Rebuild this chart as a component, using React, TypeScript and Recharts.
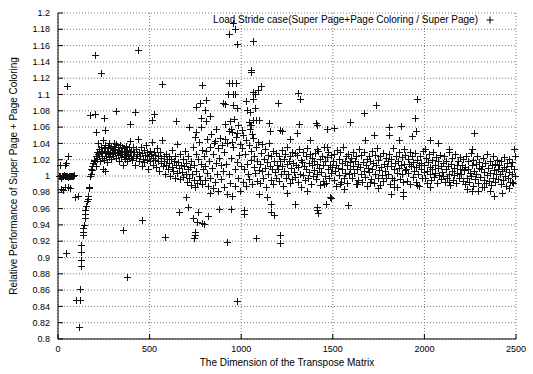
import { ScatterChart, Scatter, XAxis, YAxis, CartesianGrid } from 'recharts'

// gnuplot style: + markers, dotted grid, inward ticks on all four sides

const xTicks = [0, 500, 1000, 1500, 2000, 2500]
const yTicks = [
  0.8, 0.82, 0.84, 0.86, 0.88, 0.9, 0.92, 0.94, 0.96, 0.98, 1,
  1.02, 1.04, 1.06, 1.08, 1.1, 1.12, 1.14, 1.16, 1.18, 1.2,
]

const seriesName = 'Load Stride case(Super Page+Page Coloring / Super Page)'
const xTitle = 'The Dimension of the Transpose Matrix'
const yTitle = 'Relative Performance of Super Page + Page Coloring'

// values, [dimension, ratio]
const seg0 = [
  [3, 1.0], [8, 1.0], [9, 1.014], [13, 1.0], [16, 0.984], [18, 0.998], [22, 1.0], [27, 1.0], [27, 0.983],
  [32, 1.001], [36, 1.0], [37, 1.014], [38, 0.987], [41, 1.0], [44, 0.905], [45, 1.016], [46, 1.0],
  [49, 1.11], [51, 1.0], [55, 0.987], [56, 1.024], [56, 0.999], [61, 1.0], [64, 0.985], [66, 1.0],
  [71, 1.0], [76, 1.0], [81, 1.0], [86, 1.001], [93, 0.974], [109, 0.975],
]
const seg100 = [
  [100, 0.848], [115, 0.815], [118, 0.848], [122, 0.861], [125, 0.89], [126, 0.897], [127, 0.907],
  [128, 0.915], [135, 0.928], [137, 0.931], [138, 0.936], [140, 0.94], [145, 0.948], [147, 0.953],
  [150, 0.958], [155, 0.963], [160, 0.969], [162, 0.972], [165, 0.975], [168, 0.985], [170, 0.987],
  [173, 1.075], [175, 1.0], [178, 1.002], [180, 1.008], [184, 1.007], [185, 1.012], [190, 1.016],
  [195, 1.02], [198, 1.018],
]
const seg200 = [
  [200, 1.149], [202, 1.018], [204, 1.076], [205, 1.024], [208, 1.012], [209, 1.054], [211, 1.03],
  [214, 1.021], [217, 1.027], [220, 1.04], [223, 1.033], [226, 1.024], [229, 1.019], [232, 1.036],
  [235, 1.028], [237, 1.126], [238, 1.022], [241, 1.031], [244, 1.009], [247, 1.044], [250, 1.034],
  [251, 1.071], [253, 1.02], [256, 1.029], [257, 1.006], [258, 1.056], [259, 1.038], [262, 1.025],
  [265, 1.031], [268, 1.017], [271, 1.036], [274, 1.028], [277, 1.023], [280, 1.04], [283, 1.03],
  [286, 1.034], [289, 1.021], [292, 1.037], [295, 1.027], [298, 1.032],
]
const seg300 = [
  [301, 1.025], [304, 1.041], [307, 1.033], [310, 1.028], [313, 1.036], [316, 1.022], [319, 1.08],
  [319, 1.039], [322, 1.03], [325, 1.026], [328, 1.035], [331, 1.019], [334, 1.032], [337, 1.038],
  [340, 1.027], [343, 1.031], [346, 1.023], [349, 1.036], [352, 1.029], [355, 0.934], [355, 1.013],
  [358, 1.034], [361, 1.025], [364, 1.03], [367, 1.021], [370, 1.037], [373, 1.027], [376, 1.032],
  [377, 0.876], [379, 1.018], [382, 1.026], [385, 1.035], [388, 1.022], [391, 1.064], [391, 1.029],
  [394, 1.043], [397, 1.024],
]
const seg400 = [
  [400, 1.031], [404, 1.02], [408, 1.036], [412, 1.025], [416, 1.029], [420, 1.014], [422, 1.078],
  [424, 1.033], [428, 1.022], [432, 1.027], [436, 1.046], [437, 1.155], [440, 1.019], [444, 1.03],
  [448, 1.024], [452, 1.035], [456, 1.012], [459, 0.946], [460, 1.028], [464, 1.021], [468, 1.032],
  [472, 1.017], [476, 1.026], [480, 1.038], [484, 1.02], [488, 1.029], [492, 1.008], [496, 1.024],
]
const seg500 = [
  [500, 1.031], [504, 1.018], [508, 1.027], [512, 1.042], [515, 1.069], [516, 1.022], [520, 1.013],
  [522, 1.076], [524, 1.03], [528, 1.02], [532, 1.026], [536, 1.011], [540, 1.034], [544, 1.019],
  [548, 1.025], [552, 1.006], [556, 1.029], [560, 1.016], [564, 1.022], [568, 1.044], [570, 1.113],
  [572, 1.012], [576, 1.024], [580, 1.018], [584, 0.925], [584, 1.003], [588, 1.027], [592, 1.014],
  [596, 1.021],
]
const seg600 = [
  [600, 1.009], [604, 1.025], [608, 1.016], [612, 1.0], [616, 1.021], [620, 1.011], [624, 1.032],
  [628, 1.006], [632, 1.018], [636, 0.998], [640, 1.024], [644, 1.013], [646, 1.068], [648, 1.039],
  [652, 1.004], [656, 1.017], [660, 1.01], [661, 0.956], [664, 1.027], [668, 0.996], [672, 1.014],
  [676, 1.005], [680, 1.021], [684, 0.999], [688, 1.012], [692, 1.031], [696, 1.003], [699, 0.974],
]
const seg700 = [
  [700, 1.016], [704, 0.993], [708, 1.008], [710, 0.962], [712, 1.024], [714, 1.06], [716, 0.998],
  [720, 1.011], [724, 0.989], [728, 1.019], [732, 1.003], [736, 1.035], [737, 0.948], [740, 0.995],
  [744, 1.013], [744, 0.924], [746, 0.931], [746, 1.048], [748, 0.986], [748, 0.928], [752, 1.027],
  [755, 1.054], [755, 1.085], [756, 1.006], [759, 0.944], [760, 0.992], [764, 1.021], [764, 0.956],
  [768, 1.0], [772, 1.042], [773, 1.089], [776, 0.995], [780, 1.015], [783, 1.071], [783, 1.06],
  [784, 1.032], [786, 1.112], [786, 0.942], [788, 0.99], [792, 1.009], [796, 1.025], [797, 0.941],
]
const seg800 = [
  [800, 1.012], [801, 1.081], [804, 0.995], [808, 1.031], [810, 1.093], [810, 1.067], [812, 1.004],
  [816, 1.045], [819, 0.951], [820, 0.988], [824, 1.018], [828, 1.036], [828, 1.074], [830, 0.979],
  [832, 0.998], [836, 1.052], [840, 1.01], [844, 0.985], [848, 1.027], [852, 1.041], [856, 0.993],
  [857, 1.043], [860, 1.016], [864, 1.058], [868, 1.002], [872, 1.034], [876, 0.982], [879, 0.96],
  [880, 1.022], [884, 1.047], [888, 0.996], [892, 1.013], [896, 1.038],
]
const seg900 = [
  [900, 1.006], [903, 1.09], [904, 1.029], [908, 0.987], [912, 1.064], [912, 1.088], [912, 1.045],
  [916, 1.015], [920, 0.978], [921, 0.919], [924, 1.041], [928, 1.1], [932, 1.003], [934, 1.174],
  [934, 1.114], [936, 1.055], [939, 1.068], [940, 0.991], [943, 0.959], [943, 1.058], [944, 1.022],
  [948, 1.042], [948, 1.054], [950, 1.114], [952, 0.975], [954, 1.1], [955, 1.188], [956, 1.035],
  [957, 1.087], [960, 1.07], [964, 1.008], [966, 1.1], [967, 1.18], [968, 0.988], [972, 1.048],
  [972, 1.114], [975, 0.847], [976, 1.017], [976, 1.083], [976, 1.053], [979, 1.162], [980, 0.997],
  [984, 1.062], [988, 1.026], [992, 0.982], [996, 1.039],
]
const seg1000 = [
  [1000, 1.012], [1003, 1.056], [1004, 1.034], [1008, 0.993], [1012, 1.05], [1016, 1.008],
  [1018, 0.958], [1018, 0.953], [1020, 1.027], [1024, 0.988], [1027, 1.092], [1028, 1.044],
  [1032, 1.015], [1034, 1.081], [1036, 1.003], [1040, 1.038], [1044, 0.996], [1045, 1.066],
  [1048, 1.058], [1048, 1.078], [1048, 1.062], [1052, 1.02], [1052, 1.13], [1052, 1.062],
  [1055, 1.128], [1056, 1.031], [1057, 1.052], [1060, 0.99], [1064, 1.047], [1066, 1.166],
  [1066, 1.094], [1066, 1.103], [1066, 1.069], [1068, 1.011], [1072, 1.025], [1076, 1.004],
  [1076, 1.101], [1076, 1.083], [1080, 1.036], [1080, 1.069], [1081, 0.924], [1084, 0.994],
  [1088, 1.019], [1092, 1.042], [1094, 1.106], [1096, 1.007], [1096, 0.978], [1097, 1.069],
]
const seg1100 = [
  [1100, 1.015], [1104, 0.992], [1107, 1.11], [1108, 1.028], [1112, 1.006], [1116, 1.039],
  [1120, 0.998], [1124, 1.021], [1128, 1.01], [1132, 1.033], [1136, 0.987], [1140, 1.017],
  [1141, 0.974], [1144, 1.026], [1148, 1.002], [1152, 1.04], [1154, 1.065], [1156, 1.012],
  [1157, 1.055], [1160, 0.995], [1161, 0.956], [1163, 0.966], [1164, 1.024], [1168, 1.008],
  [1172, 1.031], [1176, 0.99], [1179, 0.952], [1180, 1.019], [1184, 1.005], [1188, 1.028],
  [1192, 0.997], [1196, 1.014],
]
const seg1200 = [
  [1200, 1.009], [1203, 1.089], [1204, 1.025], [1208, 0.994], [1212, 1.018], [1212, 0.928],
  [1212, 0.918], [1212, 1.057], [1216, 1.003], [1220, 1.032], [1221, 1.055], [1224, 1.012],
  [1228, 0.988], [1232, 1.021], [1236, 1.006], [1240, 1.027], [1244, 0.997], [1248, 1.015],
  [1250, 0.979], [1252, 1.035], [1256, 1.002], [1260, 1.019], [1264, 0.991], [1267, 1.046],
  [1268, 1.024], [1272, 1.01], [1276, 1.03], [1280, 0.996], [1284, 1.016], [1288, 1.005],
  [1292, 1.028], [1294, 0.966], [1296, 0.999],
]
const seg1300 = [
  [1300, 1.014], [1303, 1.053], [1304, 1.026], [1308, 0.993], [1309, 1.102], [1312, 1.011],
  [1316, 1.033], [1318, 1.064], [1320, 1.003], [1321, 1.095], [1324, 1.02], [1328, 0.987],
  [1332, 1.017], [1336, 1.029], [1340, 1.001], [1344, 1.012], [1348, 0.995], [1352, 1.024],
  [1356, 1.008], [1358, 0.982], [1360, 1.034], [1364, 0.998], [1368, 1.016], [1372, 1.005],
  [1376, 1.027], [1376, 1.044], [1380, 0.99], [1384, 1.013], [1388, 1.022], [1392, 1.0], [1396, 1.018],
]
const seg1400 = [
  [1400, 1.007], [1404, 1.028], [1408, 0.996], [1409, 1.065], [1412, 1.015], [1412, 1.033],
  [1413, 0.962], [1416, 1.003], [1416, 0.958], [1416, 1.062], [1418, 0.955], [1420, 1.031],
  [1424, 1.01], [1428, 0.989], [1432, 1.021], [1436, 1.005], [1440, 1.025], [1444, 0.994],
  [1448, 1.013], [1452, 1.036], [1453, 0.99], [1456, 1.0], [1460, 1.018], [1463, 0.966],
  [1464, 0.992], [1467, 1.058], [1467, 1.036], [1468, 1.023], [1472, 1.009], [1476, 1.03],
  [1480, 0.997], [1484, 1.014], [1485, 0.974], [1488, 1.004], [1490, 0.973], [1492, 1.026], [1496, 1.011],
]
const seg1500 = [
  [1500, 1.018], [1504, 0.995], [1507, 1.059], [1508, 1.027], [1512, 1.006], [1516, 1.014],
  [1520, 0.988], [1524, 1.032], [1528, 1.01], [1532, 1.021], [1536, 1.001], [1540, 1.029],
  [1540, 0.99], [1544, 0.993], [1548, 1.016], [1552, 1.008], [1556, 1.035], [1560, 0.998],
  [1562, 0.984], [1564, 1.019], [1568, 1.004], [1572, 1.024], [1576, 0.991], [1580, 1.013],
  [1584, 1.027], [1584, 0.964], [1588, 1.002], [1592, 1.017], [1594, 1.066], [1596, 1.009],
]
const seg1600 = [
  [1600, 1.022], [1604, 0.997], [1608, 1.012], [1612, 1.03], [1616, 1.004], [1620, 1.018],
  [1624, 0.99], [1628, 1.025], [1631, 0.99], [1632, 1.008], [1636, 1.015], [1640, 0.995],
  [1644, 1.033], [1648, 1.011], [1652, 1.002], [1656, 1.026], [1660, 0.993], [1664, 1.017],
  [1668, 1.006], [1669, 1.077], [1672, 1.029], [1675, 1.044], [1676, 0.999], [1680, 1.014],
  [1684, 1.021], [1688, 0.988], [1692, 1.01], [1696, 1.024],
]
const seg1700 = [
  [1700, 1.005], [1704, 1.019], [1704, 0.993], [1708, 0.996], [1712, 1.031], [1716, 1.009],
  [1720, 1.016], [1724, 0.992], [1724, 1.05], [1728, 1.026], [1732, 1.003], [1736, 1.013],
  [1736, 1.087], [1740, 1.034], [1744, 0.998], [1747, 0.985], [1748, 1.02], [1752, 1.007],
  [1756, 0.989], [1760, 1.024], [1764, 1.011], [1768, 1.001], [1772, 1.028], [1776, 0.994],
  [1780, 1.015], [1784, 1.006], [1788, 1.022], [1792, 0.997], [1796, 1.012],
]
const seg1800 = [
  [1800, 1.018], [1804, 1.003], [1808, 1.027], [1809, 1.06], [1809, 1.05], [1812, 0.99],
  [1816, 1.012], [1819, 0.978], [1820, 1.021], [1824, 0.998], [1828, 1.034], [1832, 1.008],
  [1833, 0.987], [1836, 0.995], [1840, 1.016], [1844, 1.025], [1848, 1.004], [1852, 0.987],
  [1856, 1.019], [1860, 1.01], [1860, 1.044], [1864, 1.029], [1868, 0.996], [1872, 1.013],
  [1874, 1.061], [1876, 1.002], [1880, 1.023], [1884, 0.993], [1884, 0.98], [1884, 0.975],
  [1888, 1.015], [1888, 1.033], [1892, 1.007], [1896, 1.026],
]
const seg1900 = [
  [1900, 1.009], [1904, 0.994], [1908, 1.021], [1912, 1.004], [1916, 1.015], [1920, 1.03],
  [1924, 0.99], [1928, 1.012], [1932, 1.024], [1933, 1.049], [1936, 0.999], [1940, 1.017],
  [1944, 1.006], [1947, 1.071], [1948, 1.028], [1952, 0.993], [1955, 1.055], [1956, 1.011],
  [1960, 1.02], [1960, 1.095], [1960, 0.989], [1964, 1.002], [1968, 1.014], [1972, 0.988],
  [1976, 1.025], [1980, 1.008], [1984, 1.016], [1988, 0.997], [1992, 1.031], [1996, 1.005],
]
const seg2000 = [
  [2000, 1.013], [2004, 0.998], [2006, 1.033], [2008, 1.022], [2012, 1.006], [2016, 0.991],
  [2020, 1.017], [2024, 1.027], [2028, 1.003], [2031, 0.986], [2032, 1.011], [2033, 1.044],
  [2036, 0.995], [2040, 1.02], [2044, 1.008], [2048, 1.029], [2052, 0.999], [2056, 1.014],
  [2060, 1.004], [2064, 1.023], [2068, 0.992], [2072, 1.01], [2075, 1.04], [2076, 1.018],
  [2080, 1.001], [2084, 1.026], [2088, 0.996], [2092, 1.012], [2096, 1.005],
]
const seg2100 = [
  [2100, 1.016], [2104, 1.0], [2108, 1.024], [2112, 0.993], [2116, 1.009], [2120, 1.019],
  [2124, 0.997], [2128, 1.012], [2132, 1.03], [2133, 1.033], [2133, 0.993], [2136, 1.003],
  [2140, 0.989], [2144, 1.015], [2148, 1.006], [2152, 1.022], [2156, 0.995], [2160, 1.01],
  [2164, 1.001], [2168, 1.027], [2172, 0.992], [2176, 1.013], [2180, 1.004], [2184, 1.019],
  [2188, 0.998], [2192, 1.008], [2196, 1.023],
]
const seg2200 = [
  [2200, 1.002], [2204, 1.014], [2208, 0.994], [2212, 1.021], [2216, 1.007], [2220, 0.99],
  [2224, 1.011], [2228, 1.025], [2232, 0.997], [2233, 0.984], [2236, 1.009], [2240, 1.018],
  [2244, 0.993], [2248, 1.004], [2252, 1.028], [2256, 1.0], [2260, 1.013], [2260, 1.033],
  [2260, 0.981], [2264, 0.988], [2268, 1.02], [2270, 1.053], [2272, 1.006], [2276, 0.996],
  [2280, 1.015], [2284, 1.003], [2288, 1.024], [2292, 0.991], [2293, 0.982], [2296, 1.01],
]
const seg2300 = [
  [2300, 1.017], [2304, 0.999], [2308, 1.008], [2312, 0.987], [2316, 1.012], [2320, 1.022],
  [2324, 0.995], [2324, 0.986], [2328, 1.005], [2332, 1.016], [2336, 0.992], [2340, 1.027],
  [2344, 1.001], [2348, 1.01], [2352, 0.994], [2356, 1.019], [2359, 0.982], [2360, 1.004],
  [2364, 0.989], [2368, 1.013], [2372, 1.024], [2376, 0.998], [2379, 0.976], [2380, 1.007],
  [2384, 1.015], [2388, 0.993], [2392, 1.002], [2396, 1.02],
]
const seg2400 = [
  [2400, 1.009], [2404, 0.996], [2408, 1.014], [2412, 1.003], [2416, 0.99], [2420, 1.018],
  [2424, 1.006], [2424, 0.979], [2428, 0.995], [2432, 1.011], [2436, 1.023], [2440, 1.0],
  [2444, 0.988], [2448, 1.008], [2452, 1.016], [2456, 0.997], [2460, 1.005], [2460, 0.985],
  [2464, 1.021], [2468, 0.993], [2472, 1.012], [2476, 1.002], [2479, 0.993], [2480, 1.017],
  [2484, 0.991], [2488, 1.009], [2488, 1.033], [2492, 1.025], [2496, 1.0],
]

const points = [
  ...seg0, ...seg100, ...seg200, ...seg300, ...seg400, ...seg500, ...seg600, ...seg700,
  ...seg800, ...seg900, ...seg1000, ...seg1100, ...seg1200, ...seg1300, ...seg1400,
  ...seg1500, ...seg1600, ...seg1700, ...seg1800, ...seg1900, ...seg2000, ...seg2100,
  ...seg2200, ...seg2300, ...seg2400,
].map(([x, y]) => ({ x, y }))

const font = '"Liberation Sans", Arial, sans-serif'
const tickStyle = { fill: '#000', fontSize: 9, fontFamily: font }

// gnuplot "+" point, snapped to the pixel grid
const PlusMark = (props: any) => {
  const { cx, cy } = props
  if (cx == null || cy == null) return null
  const px = Math.round(cx) + 0.5
  const py = Math.round(cy) + 0.5
  return <path d={`M${px - 3.5},${py}h7M${px},${py - 3.5}v7`} stroke="#111" strokeWidth={1} fill="none" />
}

const fmt = (v: number) => String(Number(v.toFixed(2)))

export default function App() {
  return (
    <div style={{ position: 'absolute', left: 0, top: 0, width: 533, height: 374, background: '#fff' }}>
      <ScatterChart width={533} height={374} margin={{ top: 13, right: 17, left: 0, bottom: 0 }}>
        <CartesianGrid stroke="#777" strokeDasharray="1 2" />
        <XAxis
          type="number"
          dataKey="x"
          domain={[0, 2500]}
          ticks={xTicks}
          height={35}
          stroke="#000"
          tickSize={-5}
          tickMargin={12}
          tick={tickStyle}
          label={{ value: xTitle, position: 'insideBottom', offset: 8, fill: '#000', fontSize: 10, fontFamily: font }}
        />
        <XAxis xAxisId="top" orientation="top" type="number" domain={[0, 2500]} ticks={xTicks} height={0} stroke="#000" tickSize={-5} tick={false} />
        <YAxis
          type="number"
          dataKey="y"
          domain={[0.8, 1.2]}
          ticks={yTicks}
          width={58}
          stroke="#000"
          tickSize={-5}
          tickMargin={13}
          tick={tickStyle}
          tickFormatter={fmt}
          interval={0}
          label={{
            value: yTitle,
            angle: -90,
            position: 'insideLeft',
            offset: 13,
            fill: '#000',
            fontSize: 10,
            fontFamily: font,
            style: { textAnchor: 'middle' },
          }}
        />
        <YAxis yAxisId="right" orientation="right" type="number" domain={[0.8, 1.2]} ticks={yTicks} width={0} stroke="#000" tickSize={-5} tick={false} interval={0} />
        <Scatter data={points} shape={PlusMark} isAnimationActive={false} />
        <Scatter data={[]} xAxisId="top" yAxisId="right" isAnimationActive={false} />
      </ScatterChart>
      <div
        style={{
          position: 'absolute',
          left: 0,
          top: 14,
          width: 478,
          textAlign: 'right',
          fontFamily: font,
          fontSize: 10,
          lineHeight: '12px',
          color: '#000',
          whiteSpace: 'nowrap',
        }}
      >
        {seriesName}
      </div>
      <svg style={{ position: 'absolute', left: 486, top: 16 }} width={8} height={8}>
        <path d="M0.5,4h7M4,0.5v7" stroke="#000" strokeWidth={1} fill="none" />
      </svg>
    </div>
  )
}
